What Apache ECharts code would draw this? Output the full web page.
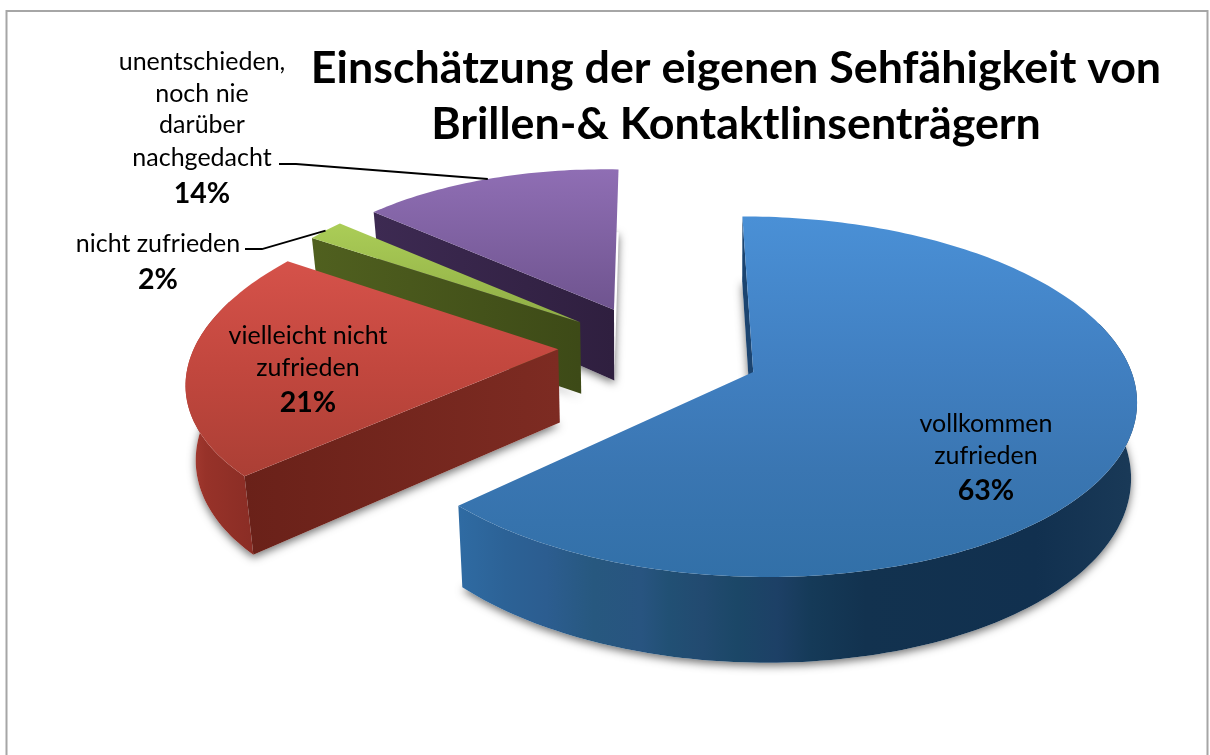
<!DOCTYPE html>
<html><head><meta charset="utf-8">
<style>html,body{margin:0;padding:0;background:#fff}#c{width:1210px;height:755px}</style>
<script src="https://cdn.jsdelivr.net/npm/echarts@6/dist/echarts.min.js"></script>
</head><body><div id="c"></div>
<script>
const categories = ['vollkommen zufrieden','vielleicht nicht zufrieden','nicht zufrieden','unentschieden, noch nie darüber nachgedacht'];
const values = [63,21,2,14];
const labelLines = [['vollkommen','zufrieden'],['vielleicht nicht','zufrieden'],['nicht zufrieden'],['unentschieden,','noch nie','darüber','nachgedacht']];
const titleText = 'Einschätzung der eigenen Sehfähigkeit von\nBrillen-& Kontaktlinsenträgern';

// layout / projection (not data)
const FONT = 'Lato, "Open Sans", sans-serif';
const P = {x0:662,y0:354,rx:373,ry:172,explode:.26,depth:73};
const persp = [.135,.1,.135,.135];
const nudge = [[1,0],[-7,-9],[-5,-6],[-8,-5]];
const radius = [[1,1],[.975,1],[.95,1.02],[.945,.98]];
const shearX = [0,31,0,0];
const shearY = [0,0,0,6];
const vanish = [[730,.9853],[628,.977],[628,.977],[628,.977]];
const labelPos = [
  {x:986,ys:[424,456],py:491},
  {x:308,ys:[336,368],py:403},
  {x:158,ys:[244],py:280},
  {x:202,ys:[62,94,125,158],py:194}
];
const leaders = [null,null,[[245,249],[262,249]],[[279,164],[296,164]]];
const styles = [
 {top:[[0,'#4a90d6'],[.4,'#4180c2'],[.7,'#3a76b2'],[1,'#3270a8']],
  side:[[0,'#2f6ba3'],[.07,'#2c6296'],[.13,'#2c5d90'],[.2,'#27587f'],[.27,'#285480'],[.31,'#215074'],[.36,'#224a70'],[.41,'#1b4767'],[.47,'#1d4066'],[.52,'#153a58'],[.6,'#12324f'],[.85,'#11304f'],[1,'#1a3a58']],
  inner:['#1b4470','#1b4470']},
 {top:[[0,'#d5524a'],[.5,'#c2473e'],[1,'#ab3f35']],
  side:[[0,'#a93d33'],[.3,'#973229'],[1,'#8a2d25']],
  inner:['#6a2119','#7d2b22']},
 {top:[[0,'#abcd57'],[1,'#8fad45']],side:[[0,'#506020'],[1,'#506020']],inner:['#50601f','#3d4a17']},
 {top:[[0,'#8f6eb4'],[1,'#6f548f']],side:[[0,'#3d2a52'],[1,'#3d2a52']],inner:['#3d2a52','#2f1f3f']}
];
const zRank = [40,30,20,10];

const total = values.reduce((a,b)=>a+b,0);
const starts = []; values.reduce((acc,v,i)=>{starts[i]=acc;return acc+v;},0);
const rad = v => v/total*Math.PI*2;

function proj(i,theta,r,bottom){
  const mid = rad(starts[i]+values[i]/2);
  const zr = r*radius[i][1]*Math.cos(theta);
  const xr = r*radius[i][0]*Math.sin(theta);
  const X = Math.sin(mid)*P.explode + xr;
  const Z = Math.cos(mid)*P.explode + zr;
  const w = 1+persp[i]*Z;
  let x = P.x0 + P.rx*X/w + nudge[i][0] + shearX[i]*zr;
  let y = P.y0 - P.ry*Z/w + nudge[i][1] + shearY[i]*xr;
  if(bottom){ x = vanish[i][0]+(x-vanish[i][0])*vanish[i][1]; y += P.depth/w; }
  return [x,y];
}
function arc(i,a,b,bottom){
  const n = Math.max(4,Math.ceil((b-a)/0.02)), pts=[];
  for(let k=0;k<=n;k++) pts.push(proj(i,a+(b-a)*k/n,1,bottom));
  return pts;
}
function grad(pts,stops,dir){
  const xs=pts.map(p=>p[0]), ys=pts.map(p=>p[1]);
  const g = dir==='x'
    ? {x:Math.min(...xs),y:0,x2:Math.max(...xs),y2:0}
    : {x:0,y:Math.min(...ys),x2:0,y2:Math.max(...ys)};
  return Object.assign({type:'linear',global:true,colorStops:stops.map(s=>({offset:s[0],color:s[1]}))},g);
}
function poly(points,fill,z2,extra){
  return {type:'polygon',z2,silent:true,shape:{points},style:Object.assign({fill,stroke:null},extra||{})};
}
function text(str,x,y,bold,z2){
  return {type:'text',z2,silent:true,style:{text:str,x,y,align:'center',verticalAlign:'middle',fill:'#000',
    font:(bold?'bold 28.5px ':'25px ')+FONT}};
}
function renderItem(params,api){
  const i = params.dataIndex, v = api.value(0);
  const a = rad(starts[i]), b = a+rad(v), z = zRank[i], st = styles[i];
  const topArc = arc(i,a,b,false), botArc = arc(i,a,b,true);
  const apexT = proj(i,a,0,false), apexB = proj(i,a,0,true);
  const ch = [];
  // soft shadow under the slice
  ch.push(poly([apexB].concat(botArc),'#fff',z,{shadowBlur:9,shadowOffsetY:3,shadowColor:'rgba(0,0,0,.55)'}));
  // curved wall: only the part of the rim that faces the viewer
  const vis = [];
  for(let k=0;k<topArc.length;k++){
    const t = a+(b-a)*k/(topArc.length-1);
    if(Math.cos(t)<.3) vis.push(k);
  }
  if(vis.length>1){
    const t1 = vis.map(k=>topArc[k]), b1 = vis.map(k=>botArc[k]);
    const wall = t1.concat(b1.slice().reverse());
    ch.push(poly(wall,grad(wall,st.side,'x'),z+1));
  }
  const inner = [apexT,topArc[0],botArc[0],apexB];
  const innerFill = {type:'linear',global:true,x:Math.min(topArc[0][0],apexT[0]),y:0,x2:Math.max(topArc[0][0],apexT[0])+.01,y2:0,
    colorStops:[{offset:0,color:st.inner[0]},{offset:1,color:st.inner[1]}]};
  ch.push(poly(inner,innerFill,z+2));
  const top = [apexT].concat(topArc);
  ch.push(poly(top,grad(top,st.top,'y'),z+3));
  if(leaders[i]){
    const end = proj(i,a+rad(v)/2,1,false);
    ch.push({type:'polyline',z2:60,silent:true,shape:{points:leaders[i].concat([end])},style:{stroke:'#000',lineWidth:1.8,fill:null}});
  }
  const lp = labelPos[i];
  labelLines[i].forEach((t,k)=>ch.push(text(t,lp.x,lp.ys[k],false,61)));
  ch.push(text(v+'%',lp.x,lp.py,true,61));
  return {type:'group',children:ch};
}
const chart = echarts.init(document.getElementById('c'),null,{renderer:'canvas'});
chart.setOption({
  animation:false,
  backgroundColor:'#fff',
  title:{text:titleText,left:731,top:35,textAlign:'center',
    textStyle:{fontFamily:FONT,fontWeight:'bold',fontSize:44.8,lineHeight:56.5,color:'#000'}},
  graphic:[{type:'rect',z:-1,silent:true,shape:{x:6.5,y:11,width:1201,height:800},style:{fill:'#fff',stroke:'#a6a6a6',lineWidth:2}}],
  series:[{type:'custom',name:'Sehfähigkeit',coordinateSystem:'none',clip:false,silent:true,
    data:values.map((v,i)=>({name:categories[i],value:[v]})),renderItem}]
});
</script></body></html>
